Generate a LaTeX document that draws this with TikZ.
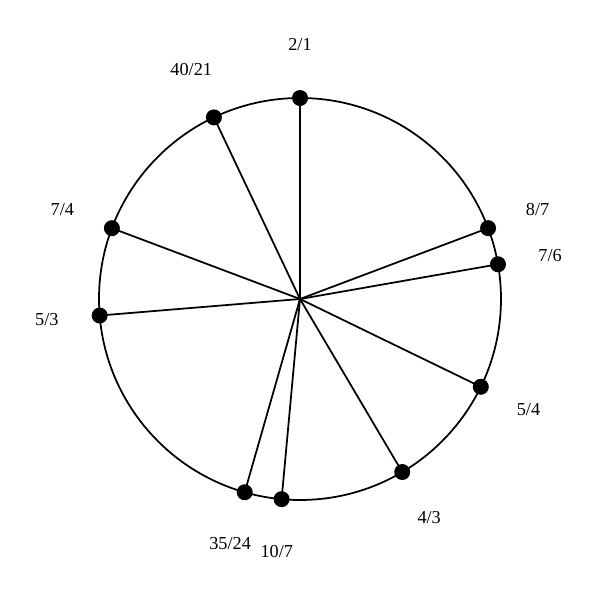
\documentclass[tikz,border=0pt]{standalone}
\usepackage{fontspec}
\setmainfont{Liberation Serif}
\begin{document}
\begin{tikzpicture}[line width=0.5pt,
    dot/.style={circle,fill=black,inner sep=0pt,minimum size=0.16cm},
    ratio/.style={font=\fontsize{5.2}{6}\selectfont}]
            \useasboundingbox (-3,-3.01) rectangle (3,2.99);
            \coordinate (c) at (0,0);
            \draw (c) circle (2.01);
            \foreach \n/\p/\q in {1/2/1,2/8/7,3/7/6,4/5/4,5/4/3,6/10/7,7/35/24,8/5/3,9/7/4,10/40/21}{
                \pgfmathsetmacro{\a}{90-360*ln(\p/\q)/ln(2)}
                \draw (c) -- (\a:2.01) node[dot] (p\n) {};
                \node[ratio] (l\n) at (\a:2.54) {\p/\q};
            }
        \end{tikzpicture}
\end{document}
